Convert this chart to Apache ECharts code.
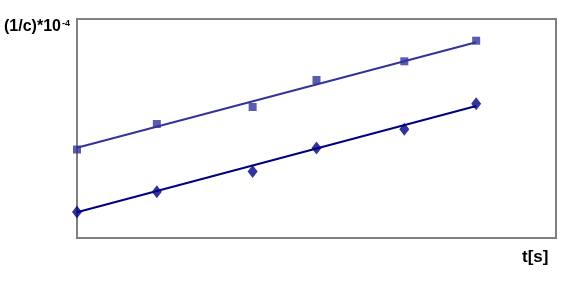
<!DOCTYPE html>
<html>
<head>
<meta charset="utf-8">
<script src="https://cdn.jsdelivr.net/npm/echarts@6/dist/echarts.min.js"></script>
<style>
html,body{margin:0;padding:0;background:#fff;}
#chart{width:575px;height:302px;}
</style>
</head>
<body>
<div id="chart"></div>
<script>
// Data (arbitrary y units, y axis has no labels)
var times = [0, 10, 22, 30, 41, 50];
var squareValues = [8.89, 11.45, 13.16, 15.87, 17.75, 19.82];
var diamondValues = [2.61, 4.65, 6.68, 9.04, 10.92, 13.49];
// trend lines read at their two ends (t = 0 and t = 50)
var trendTimes = [0, 50];
var squareTrend = [9.06, 19.66];
var diamondTrend = [2.58, 13.26];
var yTitle = '(1/c)*10';
var yTitleSup = '-4';
var xTitle = 't[s]';

function pairs(xs, ys) { return xs.map(function (x, i) { return [x, ys[i]]; }); }

var chart = echarts.init(document.getElementById('chart'), null, {renderer: 'canvas'});
chart.setOption({
  animation: false,
  backgroundColor: '#ffffff',
  title: {
    text: '{a|' + yTitle + '}{b|' + yTitleSup + '}',
    left: 4, top: 18, padding: 0,
    textStyle: {
      rich: {
        a: {fontFamily: 'Liberation Sans, Arial, sans-serif', fontWeight: 'bold', fontSize: 16, color: '#000', lineHeight: 18},
        b: {fontFamily: 'Liberation Sans, Arial, sans-serif', fontWeight: 'bold', fontSize: 9, color: '#000', verticalAlign: 'top', lineHeight: 18, padding: [1, 0, 0, 1]}
      }
    }
  },
  graphic: [{
    type: 'text', left: 522, top: 249,
    style: {text: xTitle, font: 'bold 17px "Liberation Sans", Arial, sans-serif', fill: '#000'}
  }],
  grid: {left: 77, top: 19, right: 19, bottom: 64, show: true, borderColor: '#808080', borderWidth: 2, backgroundColor: 'transparent'},
  xAxis: {type: 'value', min: 0, max: 60, show: false, splitLine: {show: false}},
  yAxis: {type: 'value', min: 0, max: 22, show: false, splitLine: {show: false}},
  series: [
    {type: 'line', data: pairs(trendTimes, squareTrend), symbol: 'none', lineStyle: {color: '#333399', width: 2}, z: 2, clip: false},
    {type: 'line', data: pairs(trendTimes, diamondTrend), symbol: 'none', lineStyle: {color: '#000080', width: 2}, z: 2, clip: false},
    {type: 'scatter', data: pairs(times, squareValues), symbol: 'rect', symbolSize: 8, itemStyle: {color: '#333399'}, z: 3, clip: false},
    {type: 'scatter', data: pairs(times, diamondValues), symbol: 'diamond', symbolSize: [10, 13], itemStyle: {color: '#000080'}, z: 3, clip: false}
  ]
});
</script>
</body>
</html>
